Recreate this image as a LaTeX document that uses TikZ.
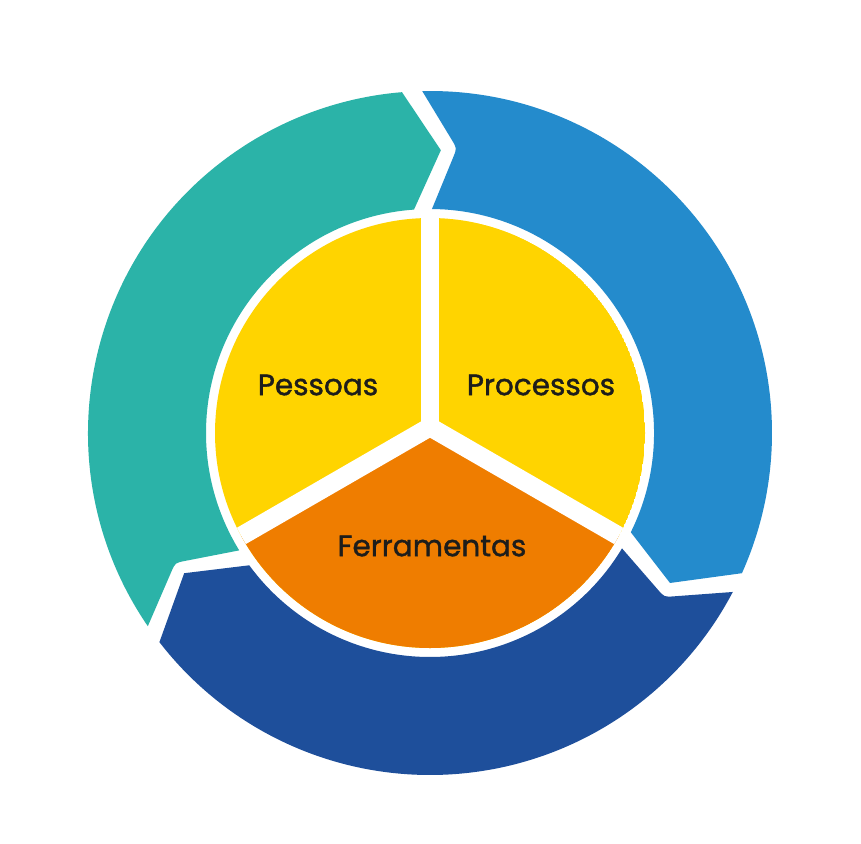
\documentclass[tikz,border=0pt]{standalone}
\usepackage{fontspec}
\setmainfont{Poppins}
\newfontfamily\lblfont{Poppins}[FakeBold=1.3]
\usetikzlibrary{calc}
\definecolor{cteal}{RGB}{43,179,168}
\definecolor{cblue}{RGB}{36,139,204}
\definecolor{cdark}{RGB}{30,79,155}
\definecolor{cyellow}{RGB}{255,212,0}
\definecolor{corange}{RGB}{239,125,0}
\definecolor{ctext}{RGB}{29,29,27}
\newcommand\ringseg[7]{%
  \fill[#1] ($(#4:286)!10pt!(#3:224)$) .. controls (#4:286) .. ($(#4:286)!10pt!(#2:342)$)
    -- (#2:342) arc[start angle=#2, end angle=#5, radius=342]
    -- (#7:283) -- (#6:224) arc[start angle=#6, end angle=#3, radius=224] -- cycle;}
\tikzset{lbl/.style={text=ctext, font=\lblfont\fontsize{29.5}{31}\selectfont, inner sep=0pt},
  sep/.style={white, line width=18.6pt}}
\begin{document}
\begin{tikzpicture}[x=1pt,y=1pt]
\useasboundingbox[fill=white] (0,0) rectangle (861,-843);
\begin{scope}[shift={(430,-433)}]
  % outer ring
  \ringseg{cteal}{214.4}{211.6}{207}{94.7}{94.1}{87.8}
  \ringseg{cblue}{91.3}{89.5}{84.6}{-24.2}{-26.3}{-32}
  \ringseg{cdark}{-27.7}{-31}{-35}{-142.3}{-143.8}{-150.3}
  % inner disk
  \begin{scope}
    \clip (0,0) circle[radius=215];
    \fill[cyellow] (0,0) circle[radius=215];
    \coordinate (j) at (0,6);
    \fill[corange] (j) -- ($(j)+(210:800)$) -- ($(j)+(330:800)$) -- cycle;
    \draw[sep] (j) -- ++(90:300);
    \draw[sep] (j) -- ++(210:300);
    \draw[sep] (j) -- ++(330:300);
  \end{scope}
  \node[lbl] (pessoas) at (-112,48) {Pessoas};
  \node[lbl] (processos) at (111,48) {Processos};
  \node[lbl] (ferramentas) at (2,-113) {Ferramentas};
\end{scope}
\end{tikzpicture}
\end{document}
